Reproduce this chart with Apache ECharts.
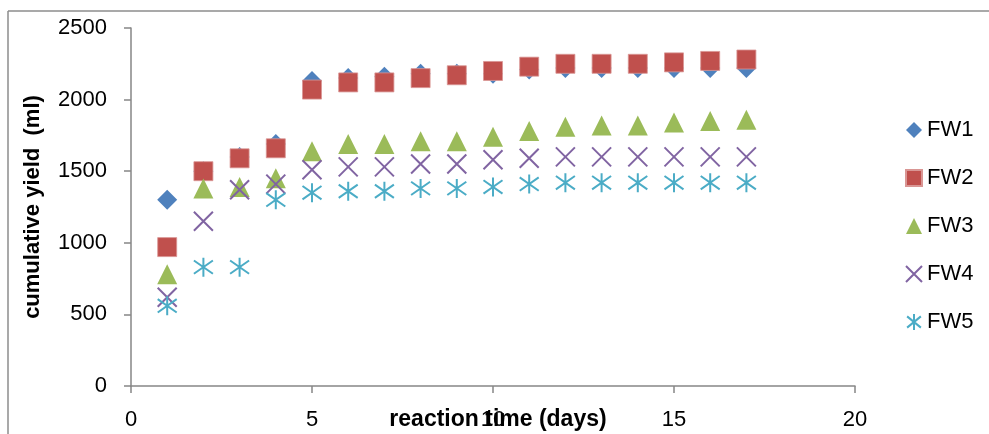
<!DOCTYPE html>
<html>
<head>
<meta charset="utf-8">
<script src="https://cdn.jsdelivr.net/npm/echarts@6/dist/echarts.min.js"></script>
<style>html,body{margin:0;padding:0;background:#fff}#c{width:989px;height:434px}</style>
</head>
<body>
<div id="c"></div>
<script>
var days = [1,2,3,4,5,6,7,8,9,10,11,12,13,14,15,16,17];
var FW1 = [1300,1500,1600,1690,2130,2150,2160,2180,2180,2180,2210,2220,2220,2220,2220,2220,2220];
var FW2 = [970,1500,1590,1660,2070,2120,2120,2150,2170,2200,2230,2250,2250,2250,2260,2270,2280];
var FW3 = [780,1380,1390,1450,1640,1690,1690,1710,1710,1740,1780,1810,1820,1820,1840,1850,1860];
var FW4 = [620,1150,1370,1410,1510,1530,1530,1550,1550,1580,1590,1600,1600,1600,1600,1600,1600];
var FW5 = [560,830,830,1300,1350,1360,1360,1380,1380,1390,1410,1420,1420,1420,1420,1420,1420];
var seriesNames = ['FW1','FW2','FW3','FW4','FW5'];
var xTicks = {min:0, max:20, interval:5};
var yTicks = {min:0, max:2500, interval:500};

function pairs(ys){ return days.map(function(d,i){ return [d, ys[i]]; }); }

var FONT = 'Liberation Sans';
var axisColor = '#868686';
var chart = echarts.init(document.getElementById('c'));
chart.setOption({
  animation:false,
  backgroundColor:'#fff',
  textStyle:{fontFamily:FONT},
  graphic:[
    {type:'line', shape:{x1:8,y1:11,x2:989,y2:11}, style:{stroke:'#8c8c8c',lineWidth:1.5}},
    {type:'line', shape:{x1:8,y1:11,x2:8,y2:434}, style:{stroke:'#8c8c8c',lineWidth:1.5}}
  ],
  grid:{left:131, right:134, top:28, bottom:48, containLabel:false, outerBoundsMode:'none'},
  legend:{
    orient:'vertical', left:900, top:114, itemWidth:16, itemHeight:16, itemGap:26,
    textStyle:{fontFamily:FONT, fontSize:22, color:'#000'},
    data:seriesNames
  },
  xAxis:{
    type:'value', min:xTicks.min, max:xTicks.max, interval:xTicks.interval,
    name:'reaction time (days)', nameLocation:'middle', nameGap:22, nameMoveOverlap:false,
    nameTextStyle:{fontFamily:FONT, fontSize:23, fontWeight:'bold', color:'#000', padding:[0,0,0,10]},
    axisLine:{show:true, lineStyle:{color:axisColor, width:1.5}},
    axisTick:{show:true, length:7, inside:false, lineStyle:{color:axisColor, width:1.5}},
    axisLabel:{fontFamily:FONT, fontSize:22, color:'#000', margin:23, formatter:function(v){return String(v);}},
    splitLine:{show:false}
  },
  yAxis:{
    type:'value', min:yTicks.min, max:yTicks.max, interval:yTicks.interval,
    name:'cumulative yield  (ml)', nameLocation:'middle', nameGap:87, nameMoveOverlap:false,
    nameTextStyle:{fontFamily:FONT, fontSize:22, fontWeight:'bold', color:'#000'},
    axisLine:{show:true, lineStyle:{color:axisColor, width:1.5}},
    axisTick:{show:true, length:7, inside:false, lineStyle:{color:axisColor, width:1.5}},
    axisLabel:{fontFamily:FONT, fontSize:22, color:'#000', margin:24, formatter:function(v){return String(v);}},
    splitLine:{show:false}
  },
  series:[
    {name:'FW1', type:'scatter', data:pairs(FW1), symbol:'diamond', symbolSize:[20,20],
      itemStyle:{color:'#4F81BD', opacity:1}},
    {name:'FW2', type:'scatter', data:pairs(FW2), symbol:'rect', symbolSize:19,
      itemStyle:{color:'#C0504D', borderColor:'#D99694', borderWidth:0.8, opacity:1}},
    {name:'FW3', type:'scatter', data:pairs(FW3), symbol:'triangle', symbolSize:[20,20],
      itemStyle:{color:'#9BBB59', opacity:1}},
    {name:'FW4', type:'scatter', data:pairs(FW4), symbol:'path://M0,0L10,10M10,0L0,10', symbolSize:19,
      itemStyle:{color:'#8064A2', borderColor:'#8064A2', borderWidth:2, opacity:1}},
    {name:'FW5', type:'scatter', data:pairs(FW5), symbol:'path://M5,0L5,10M0.7,1.5L9.3,8.5M9.3,1.5L0.7,8.5', symbolSize:19,
      itemStyle:{color:'#4BACC6', borderColor:'#4BACC6', borderWidth:2, opacity:1}}
  ]
});
</script>
</body>
</html>
